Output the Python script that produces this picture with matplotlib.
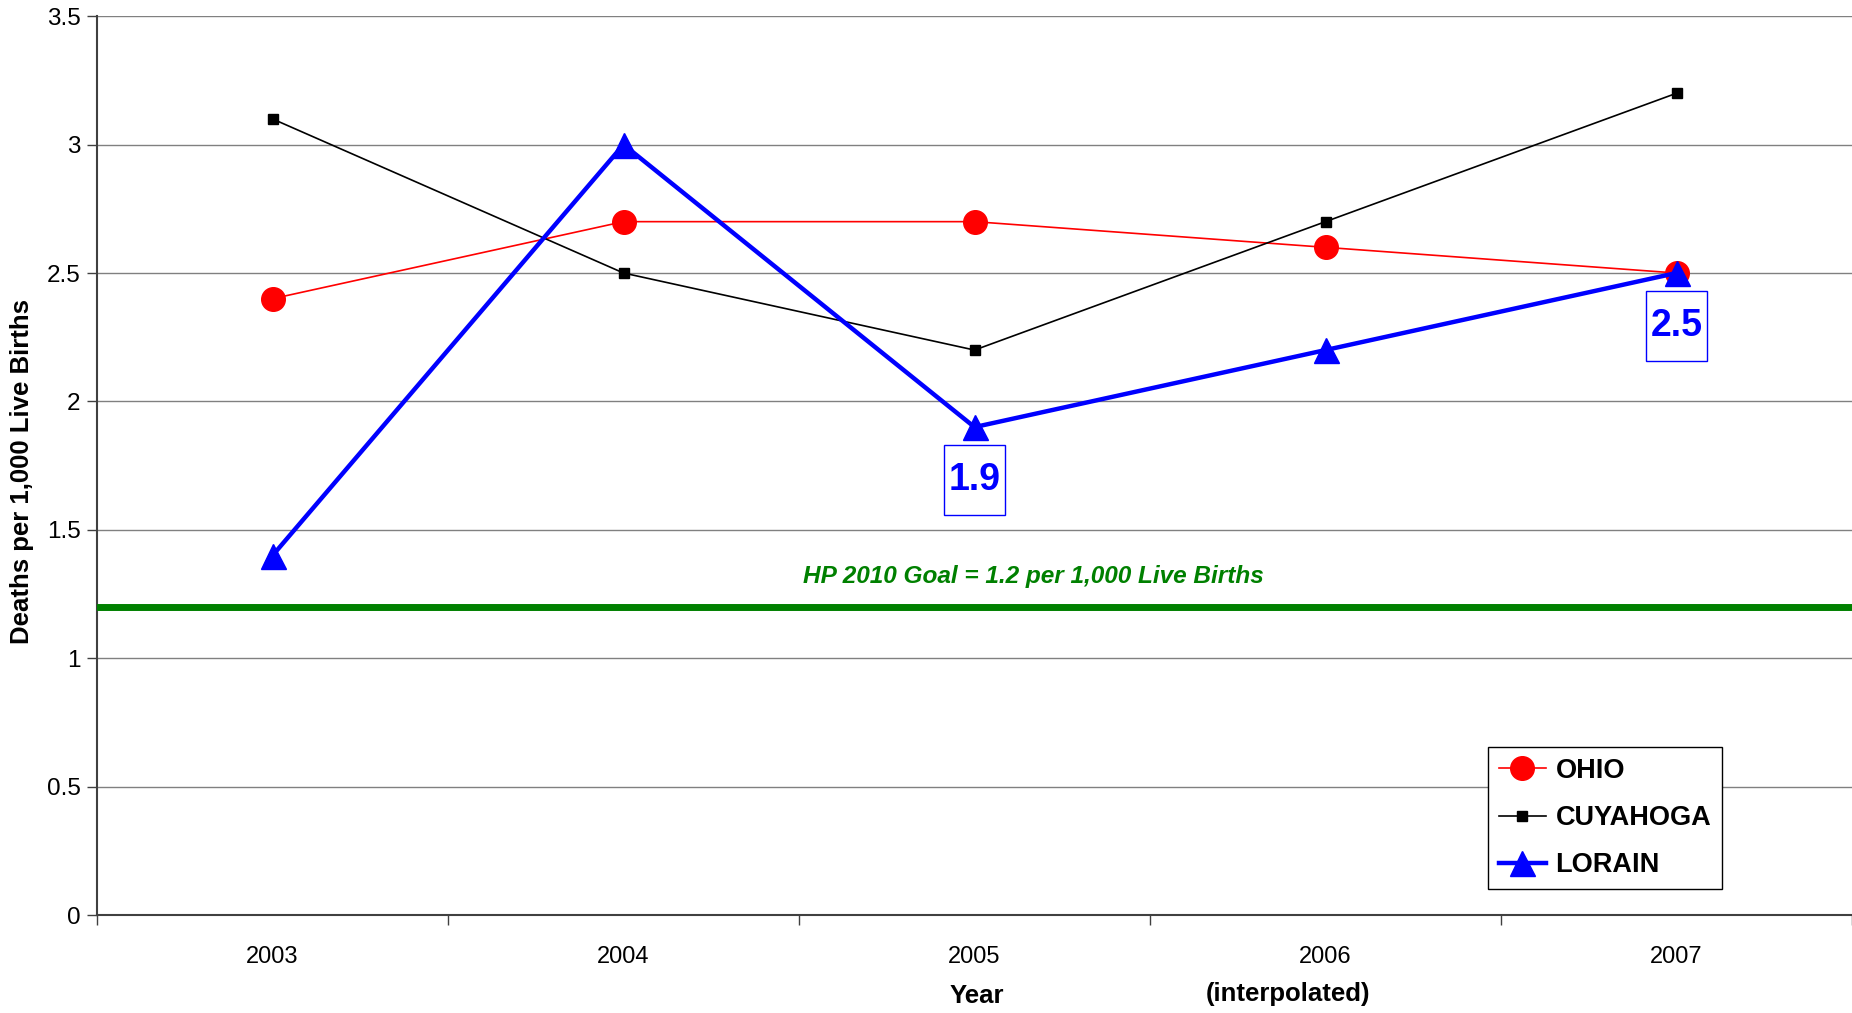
import matplotlib
matplotlib.use("Agg")
import matplotlib.pyplot as plt
from matplotlib.ticker import FixedLocator
from matplotlib.path import Path

plt.rcParams['font.family'] = ['Liberation Sans', 'DejaVu Sans']

years = ["2003", "2004", "2005", "2006", "2007"]
ohio = [2.4, 2.7, 2.7, 2.6, 2.5]
cuyahoga = [3.1, 2.5, 2.2, 2.7, 3.2]
lorain = [1.4, 3.0, 1.9, 2.2, 2.5]
goal = 1.2
yticks = [0, 0.5, 1, 1.5, 2, 2.5, 3, 3.5]
ytick_labels = ["0", "0.5", "1", "1.5", "2", "2.5", "3", "3.5"]
callouts = [2, 4]  # indices of LORAIN points with value boxes


def tall_box(x0, y0, width, height, mutation_size):
    """Rectangle with small horizontal and larger vertical padding."""
    px = 0.12 * mutation_size
    py = 0.45 * mutation_size
    x0, x1 = x0 - px, x0 + width + px
    y0, y1 = y0 - py, y0 + height + py
    return Path([(x0, y0), (x1, y0), (x1, y1), (x0, y1), (x0, y0)], closed=True)


fig = plt.figure(figsize=(18.52, 10.13), dpi=100)
ax = fig.add_axes([0.0524, 0.0967, 0.9476, 0.8873])

x = list(range(len(years)))

ax.plot(x, ohio, color='#ff0000', lw=1.2, marker='o', ms=17, label='OHIO', zorder=4)
ax.plot(x, cuyahoga, color='black', lw=1.2, marker='s', ms=7, label='CUYAHOGA', zorder=4)
ax.plot(x, lorain, color='#0000ff', lw=3.2, marker='^', ms=18, label='LORAIN', zorder=5)

ax.axhline(goal, color='#008000', lw=5, zorder=3)
ax.text(2.168, goal + 0.12, "HP 2010 Goal = 1.2 per 1,000 Live Births",
        color='#008000', fontsize=17.6, fontweight='bold', fontstyle='italic',
        ha='center', va='center')

for i in callouts:
    ax.annotate(f"{lorain[i]:.1f}", xy=(x[i], lorain[i]), xytext=(0, -38),
                textcoords='offset points', ha='center', va='center',
                fontsize=27, fontweight='bold', color='#0000ff',
                bbox=dict(boxstyle=tall_box, fc='white', ec='#0000ff', lw=1))

ax.set_xlim(-0.5, 4.5)
ax.set_ylim(0, 3.5)
ax.set_yticks(yticks)
ax.set_yticklabels(ytick_labels)
ax.grid(axis='y', color='#808080', lw=1)
ax.set_axisbelow(True)

ax.set_xticks(x)
ax.set_xticklabels(years)
ax.xaxis.set_minor_locator(FixedLocator([-0.5, 0.5, 1.5, 2.5, 3.5, 4.5]))
ax.tick_params(axis='x', which='major', length=0, pad=22, labelsize=17)
ax.tick_params(axis='x', which='minor', length=7, width=1, color='#404040', direction='out')
ax.tick_params(axis='y', length=7, width=1, color='#404040', pad=5, labelsize=17.5)

for s in ['top', 'right']:
    ax.spines[s].set_visible(False)
ax.spines['left'].set_color('#404040')
ax.spines['bottom'].set_color('#404040')
ax.spines['left'].set_linewidth(1.5)
ax.spines['bottom'].set_linewidth(1.5)

ax.set_ylabel("Deaths per 1,000 Live Births", fontsize=18.5, fontweight='bold')
ax.yaxis.set_label_coords(-0.036, 0.493)
fig.text(977 / 1852, 1 - 996 / 1013, "Year", fontsize=18.5, fontweight='bold', ha='center', va='center')
fig.text(1288 / 1852, 1 - 994 / 1013, "(interpolated)", fontsize=18.5, fontweight='bold', ha='center', va='center')

leg = ax.legend(loc='lower right', bbox_to_anchor=(0.926, 0.029), prop={'size': 19.5, 'weight': 'bold'},
                frameon=True, fancybox=False, edgecolor='black', framealpha=1,
                handlelength=1.75, handletextpad=0.35, labelspacing=0.78, borderpad=0.4,
                borderaxespad=0)
leg.get_frame().set_linewidth(1)

fig.savefig("out.png", dpi=100, facecolor='white')
